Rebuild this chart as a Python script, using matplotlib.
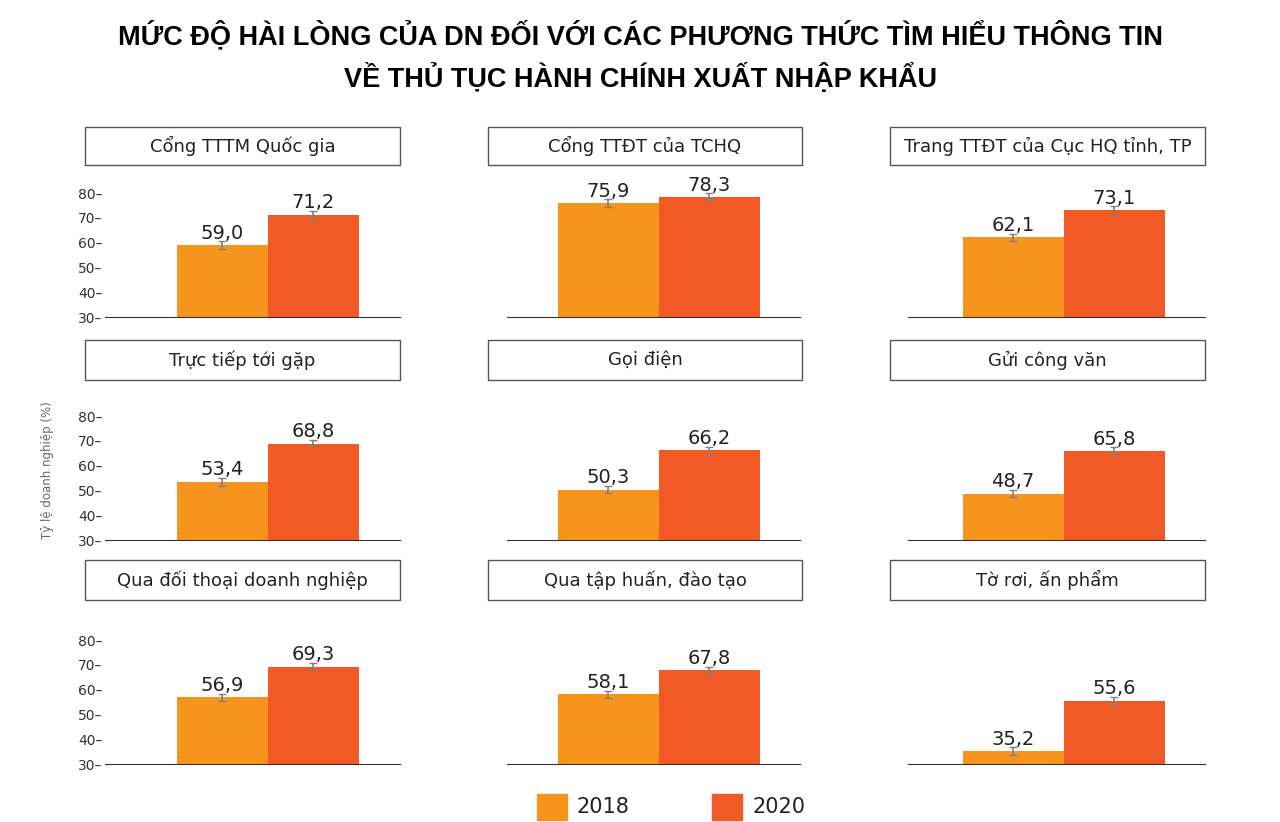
import matplotlib
matplotlib.use("Agg")
import matplotlib.pyplot as plt
from matplotlib.patches import Rectangle

panels = ["Cổng TTTM Quốc gia", "Cổng TTĐT của TCHQ", "Trang TTĐT của Cục HQ tỉnh, TP",
          "Trực tiếp tới gặp", "Gọi điện", "Gửi công văn",
          "Qua đối thoại doanh nghiệp", "Qua tập huấn, đào tạo", "Tờ rơi, ấn phẩm"]
v2018 = [59.0, 75.9, 62.1, 53.4, 50.3, 48.7, 56.9, 58.1, 35.2]
v2020 = [71.2, 78.3, 73.1, 68.8, 66.2, 65.8, 69.3, 67.8, 55.6]
err = 1.5
yticks = [30, 40, 50, 60, 70, 80]
c18, c20 = "#F7941D", "#F15A24"

W, H = 1280, 822
fig = plt.figure(figsize=(12.8, 8.22), dpi=100)

def fx(px): return px / W
def fy(py): return 1 - py / H

fig.text(0.5, fy(36), "MỨC ĐỘ HÀI LÒNG CỦA DN ĐỐI VỚI CÁC PHƯƠNG THỨC TÌM HIỂU THÔNG TIN",
         ha="center", va="center", fontsize=19.5, fontweight="bold", family="Liberation Sans")
fig.text(0.5, fy(78), "VỀ THỦ TỤC HÀNH CHÍNH XUẤT NHẬP KHẨU",
         ha="center", va="center", fontsize=19.5, fontweight="bold", family="Liberation Sans")

# column layout: axes left px, right px, box left, box right, xlim
cols = [(105, 400, 85, 400, (-1.286, 1.956)),
        (507, 800, 488, 802, (-1.0, 1.9)),
        (908, 1205, 890, 1205, (-1.04, 1.90))]
# row layout: box top, box bottom, y of value 30
rows = [(127, 165, 317), (340, 380, 540), (560, 600, 764)]
pxper = 124 / 50.0

for i, name in enumerate(panels):
    r, c = divmod(i, 3)
    al, ar, bl, br, xl = cols[c]
    bt, bb, y30 = rows[r]
    top = 84
    ytop = y30 - (top - 30) * pxper
    ax = fig.add_axes([fx(al), fy(y30), fx(ar - al), (y30 - ytop) / H])
    ax.bar([0, 1], [v2018[i], v2020[i]], width=1.0, color=[c18, c20])
    ax.errorbar([0, 1], [v2018[i], v2020[i]], yerr=err, fmt="none", ecolor="#808080",
                elinewidth=1.2, capsize=3)
    for x, v in zip([0, 1], [v2018[i], v2020[i]]):
        ax.text(x, v + 1.0, f"{v:.1f}".replace(".", ","), ha="center", va="bottom",
                fontsize=14, color="#222222")
    ax.set_xlim(*xl)
    ax.set_ylim(30, top)
    for s in ["top", "right", "left"]:
        ax.spines[s].set_visible(False)
    ax.spines["bottom"].set_color("#333333")
    ax.set_xticks([])
    if c == 0:
        ax.set_yticks(yticks)
        ax.set_yticklabels([f"{t}–" for t in yticks], fontsize=10, color="#333333")
        ax.tick_params(axis="y", length=0, pad=2)
    else:
        ax.set_yticks([])
    # title box
    fig.patches.append(Rectangle((fx(bl), fy(bb)), fx(br - bl), (bb - bt) / H,
                                 transform=fig.transFigure, fill=False,
                                 edgecolor="#555555", linewidth=1))
    fig.text(fx((bl + br) / 2), fy((bt + bb) / 2), name, ha="center", va="center",
             fontsize=13, color="#222222")

fig.text(fx(48), fy(470), "Tỷ lệ doanh nghiệp (%)", rotation=90, ha="center",
         va="center", fontsize=8.5, color="#666666")

# legend
for lx, col, lab in [(537, c18, "2018"), (712, c20, "2020")]:
    fig.patches.append(Rectangle((fx(lx), fy(820)), fx(30), 26 / H,
                                 transform=fig.transFigure, color=col))
    fig.text(fx(lx + 40), fy(807), lab, ha="left", va="center", fontsize=15, color="#222222")

fig.savefig("out.png", dpi=100, facecolor="white")
